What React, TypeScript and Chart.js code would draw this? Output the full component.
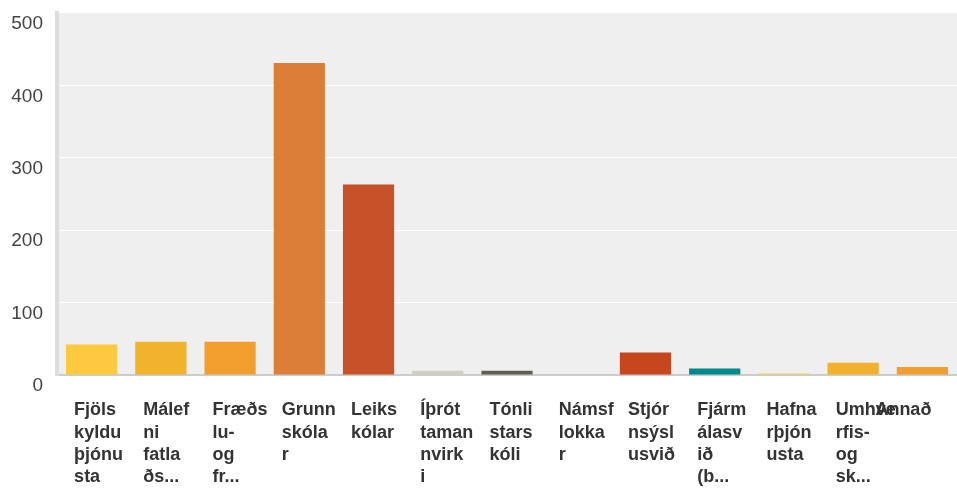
import React, { useEffect, useRef } from "react";
import { Chart, registerables } from "chart.js";

Chart.register(...registerables);

// Categories (as displayed, truncated like the reference)
const categories: string[] = [
  "Fjölskylduþjónusta",
  "Málefni fatlaðs...",
  "Fræðslu- og fr...",
  "Grunnskólar",
  "Leikskólar",
  "Íþróttamannvirki",
  "Tónlistarskóli",
  "Námsflokkar",
  "Stjórnsýslusvið",
  "Fjármálasvið (b...",
  "Hafnarþjónusta",
  "Umhverfis- og sk...",
  "Annað",
];

// Wrapped tick labels as shown under the axis
const tickLabels: string[][] = [
  ["Fjöls", "kyldu", "þjónu", "sta"],
  ["Málef", "ni", "fatla", "ðs..."],
  ["Fræðs", "lu-", "og", "fr..."],
  ["Grunn", "skóla", "r"],
  ["Leiks", "kólar"],
  ["Íþrót", "taman", "nvirk", "i"],
  ["Tónli", "stars", "kóli"],
  ["Námsf", "lokka", "r"],
  ["Stjór", "nsýsl", "usvið"],
  ["Fjárm", "álasv", "ið", "(b..."],
  ["Hafna", "rþjón", "usta"],
  ["Umhve", "rfis-", "og", "sk..."],
  ["Annað"],
];

const values: number[] = [42, 46, 46, 431, 263, 6, 6, 0, 31, 9, 2, 17, 11];

const barColors: string[] = [
  "#fcc93f",
  "#f1b22c",
  "#f29e2e",
  "#dc7e37",
  "#c75128",
  "#d0cfbf",
  "#605f4f",
  "#8b5e3c",
  "#c7461e",
  "#00898a",
  "#fcc94a",
  "#f1b12d",
  "#f29e2f",
];

const yMin = 0;
const yMax = 500;
const yStep = 100;

const FONT = '"Liberation Sans", Arial, Helvetica, sans-serif';

const plotBg = {
  id: "plotBg",
  beforeDraw(chart: any) {
    const { ctx, chartArea } = chart;
    if (!chartArea) return;
    ctx.save();
    ctx.fillStyle = "#efefef";
    ctx.fillRect(chartArea.left, chartArea.top, chartArea.right - chartArea.left, chartArea.bottom - chartArea.top);
    ctx.restore();
  },
};

// Give the overlay label axis (x2) the same vertical band as the main x axis,
// so its label is not clipped away.
const labelBand = {
  id: "labelBand",
  afterLayout(chart: any) {
    const s = chart.scales.x2;
    if (!s || !chart.chartArea) return;
    s.top = chart.chartArea.bottom;
    s.bottom = chart.height;
    s.height = s.bottom - s.top;
  },
};

export default function App() {
  const ref = useRef<HTMLCanvasElement>(null);

  useEffect(() => {
    document.body.style.margin = "0";
    const last = categories.length - 1;
    const tickFont = { family: FONT, size: 18, weight: "bold", lineHeight: 1.245 };
    const chart = new Chart(ref.current as HTMLCanvasElement, {
      type: "bar",
      data: {
        labels: categories,
        datasets: [
          {
            data: values,
            backgroundColor: barColors,
            borderWidth: 0,
            barPercentage: 0.74,
            categoryPercentage: 1,
            xAxisID: "x",
            yAxisID: "y",
          },
        ],
      },
      options: {
        animation: false,
        responsive: false,
        maintainAspectRatio: false,
        layout: { padding: { top: 13, left: 0, right: 0, bottom: 0 } },
        plugins: { legend: { display: false }, tooltip: { enabled: false } },
        scales: {
          x: {
            type: "category",
            position: "bottom",
            weight: 0,
            offset: true,
            grid: { display: false, drawTicks: false },
            border: { display: true, color: "#cccccc", width: 2 },
            ticks: {
              autoSkip: false,
              maxRotation: 0,
              minRotation: 0,
              align: "start",
              labelOffset: -17.5,
              padding: 24,
              color: "#333333",
              font: tickFont,
              callback: (_v: any, i: number) => (i < last ? tickLabels[i] : ""),
            },
            afterFit: (s: any) => {
              s.height = 120;
              s.paddingLeft = 0;
              s.paddingRight = 0;
            },
          },
          x2: {
            type: "category",
            display: true,
            position: "bottom",
            weight: 1,
            offset: true,
            grid: { display: false, drawTicks: false },
            border: { display: false },
            ticks: {
              autoSkip: false,
              maxRotation: 0,
              minRotation: 0,
              align: "start",
              labelOffset: -47,
              padding: 24,
              color: "#333333",
              font: tickFont,
              callback: (_v: any, i: number) => (i === last ? tickLabels[i] : ""),
            },
            afterFit: (s: any) => {
              s.height = 0;
              s.paddingLeft = 0;
              s.paddingRight = 0;
            },
          },
          y: {
            min: yMin,
            max: yMax,
            grid: {
              drawTicks: false,
              lineWidth: 1,
              color: (ctx: any) =>
                ctx.tick && (ctx.tick.value === yMin || ctx.tick.value === yMax) ? "rgba(0,0,0,0)" : "#ffffff",
            },
            border: { display: true, color: "#dddddd", width: 4 },
            ticks: {
              stepSize: yStep,
              padding: 14,
              labelOffset: 11,
              color: "#444444",
              font: { family: FONT, size: 19 },
            },
            afterFit: (s: any) => {
              s.width = 57;
              s.paddingTop = 0;
              s.paddingBottom = 0;
            },
          },
        },
      } as any,
      plugins: [plotBg, labelBand],
    });
    return () => chart.destroy();
  }, []);

  return (
    <div style={{ width: 957, height: 495, overflow: "hidden" }}>
      <canvas ref={ref} width={957} height={495} style={{ width: 957, height: 495, display: "block" }} />
    </div>
  );
}
